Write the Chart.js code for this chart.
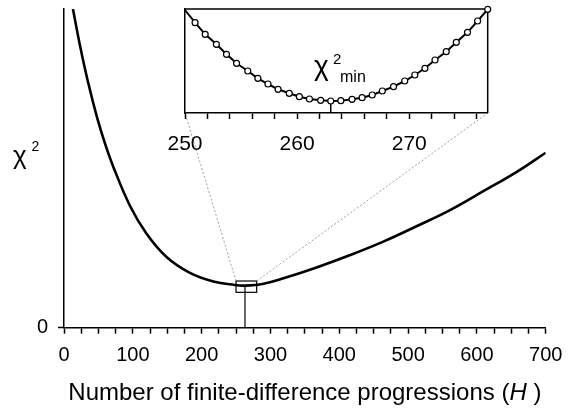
<!DOCTYPE html>
<html>
<head>
<meta charset="utf-8">
<script src="https://cdn.jsdelivr.net/npm/chart.js@4.4.0/dist/chart.umd.min.js"></script>
<style>
  body { margin: 0; background: #fff; }
  #wrap { position: relative; width: 580px; height: 410px; }
  #mainChart { position: absolute; left: 0; top: 0; }
  #insetChart { position: absolute; left: 150px; top: 0; }
</style>
</head>
<body>
<div id="wrap">
  <canvas id="mainChart" width="580" height="410"></canvas>
  <canvas id="insetChart" width="370" height="160"></canvas>
</div>
<script>
// chi^2 against number of finite-difference progressions H
const hValues   = [13, 23, 35, 48, 60, 72, 96, 120, 149, 183, 217, 248, 263, 290, 319, 367, 416, 464, 513, 561, 610, 658, 700];
const chiValues = [100, 88.8, 77, 66, 57.5, 50.3, 38.2, 29.5, 22.2, 17.2, 14.5, 13.4, 13.2, 13.8, 15.5, 18.9, 22.8, 27.0, 31.9, 36.9, 42.9, 48.9, 54.9];

// zoomed points around the minimum (inset, relative chi^2 units)
const insetH   = [250, 250.9, 251.8, 252.8, 253.7, 254.6, 255.6, 256.5, 257.4, 258.3, 259.3, 260.2, 261.1, 262.1, 263.0,
                  263.9, 264.9, 265.8, 266.7, 267.6, 268.6, 269.6, 270.5, 271.4, 272.3, 273.3, 274.2, 275.2, 276.1, 277.0];
const insetChi = [103, 90.3, 78.7, 68.7, 58.7, 49.7, 42, 34.7, 29, 23.7, 19.7, 16.3, 14, 12.7, 12,
                  12.3, 13.7, 15.3, 18, 22, 26.3, 32, 38, 44.7, 53, 61.3, 70.7, 80.7, 92, 103.7];

const minH = 263;          // position of chi^2 min
const minChi = 13.2;       // chi^2 min on main axes
const insetMinChi = 12;    // chi^2 min on inset axes
const boxH = [250, 280];   // zoom window, H
const boxChi = [11.1, 14.65];

const FONT = "'Liberation Sans', Arial, sans-serif";

//----------------* inset decorations
const insetDecor = {
  id: 'insetDecor',
  beforeDatasetsDraw(chart) {
    const ctx = chart.ctx, a = chart.chartArea;
    const xs = chart.scales.x, ys = chart.scales.y;
    ctx.save();
    ctx.strokeStyle = '#000';
    ctx.lineWidth = 1.5;
    ctx.beginPath();
    ctx.moveTo(a.left, a.top); ctx.lineTo(a.right, a.top); ctx.lineTo(a.right, a.bottom);
    ctx.stroke();
    const mx = xs.getPixelForValue(minH);
    ctx.beginPath();
    ctx.moveTo(mx, ys.getPixelForValue(insetMinChi));
    ctx.lineTo(mx, a.bottom);
    ctx.stroke();
    // chi^2 min label
    ctx.fillStyle = '#000';
    ctx.textBaseline = 'alphabetic';
    ctx.font = '28px ' + FONT;
    ctx.fillText('\u03C7', 164, 75);
    ctx.font = '15px ' + FONT;
    ctx.fillText('2', 183, 64);
    ctx.font = '16px ' + FONT;
    ctx.fillText('min', 190, 82);
    ctx.restore();
  }
};

const insetChart = new Chart(document.getElementById('insetChart'), {
  type: 'line',
  data: {
    datasets: [{
      data: insetH.map((h, i) => ({ x: h, y: insetChi[i] })),
      borderColor: '#000',
      borderWidth: 2,
      tension: 0,
      clip: false,
      pointRadius: c => c.dataIndex === 0 ? 0 : 3,
      pointBackgroundColor: '#fff',
      pointBorderColor: '#000',
      pointBorderWidth: 1.2
    }]
  },
  options: {
    responsive: false,
    animation: false,
    devicePixelRatio: 1,
    layout: { padding: { left: 0, right: 32.3, top: 9, bottom: 0 } },
    scales: {
      x: {
        type: 'linear', min: 250, max: 277,
        afterFit: s => { s.height = 47; s.paddingLeft = 0; s.paddingRight = 0; },
        ticks: {
          stepSize: 2, includeBounds: false, autoSkip: false, maxRotation: 0, padding: 13,
          color: '#000', font: { family: FONT, size: 21 },
          callback: v => v % 10 === 0 ? v : ''
        },
        grid: { drawOnChartArea: false, tickLength: 6, tickColor: '#000', tickWidth: 1.5 },
        border: { color: '#000', width: 1.5 }
      },
      y: {
        min: 0, max: 104,
        afterFit: s => { s.width = 35; s.paddingTop = 0; s.paddingBottom = 0; },
        ticks: { display: false },
        grid: { drawOnChartArea: false, drawTicks: false },
        border: { color: '#000', width: 1.5 }
      }
    },
    plugins: { legend: { display: false }, tooltip: { enabled: false } }
  },
  plugins: [insetDecor]
});

//----------------* main chart decorations: zoom box, connectors, axis titles
const mainDecor = {
  id: 'mainDecor',
  afterDraw(chart) {
    const ctx = chart.ctx, a = chart.chartArea;
    const xs = chart.scales.x, ys = chart.scales.y;
    ctx.save();
    const bx0 = xs.getPixelForValue(boxH[0]), bx1 = xs.getPixelForValue(boxH[1]);
    const byTop = ys.getPixelForValue(boxChi[1]), byBot = ys.getPixelForValue(boxChi[0]);
    ctx.strokeStyle = '#000';
    ctx.lineWidth = 1.2;
    ctx.strokeRect(bx0, byTop, bx1 - bx0, byBot - byTop);
    const mx = xs.getPixelForValue(minH);
    ctx.beginPath();
    ctx.moveTo(mx, ys.getPixelForValue(minChi));
    ctx.lineTo(mx, ys.getPixelForValue(0));
    ctx.stroke();

    // dotted connectors to the inset corners
    const ic = insetChart.canvas, ia = insetChart.chartArea;
    const ox = ic.offsetLeft, oy = ic.offsetTop;
    ctx.strokeStyle = '#888';
    ctx.lineWidth = 0.8;
    ctx.setLineDash([2, 2]);
    ctx.beginPath();
    ctx.moveTo(bx0, byTop); ctx.lineTo(ox + ia.left, oy + ia.bottom);
    ctx.moveTo(bx1, byTop); ctx.lineTo(ox + ia.right, oy + ia.bottom);
    ctx.stroke();
    ctx.setLineDash([]);

    // y title chi^2
    ctx.fillStyle = '#000';
    ctx.textBaseline = 'alphabetic';
    ctx.font = '26px ' + FONT;
    ctx.fillText('\u03C7', 13, 164);
    ctx.font = '14px ' + FONT;
    ctx.fillText('2', 31.5, 151);

    // x title with italic H
    const p1 = 'Number of finite-difference progressions (', p2 = 'H', p3 = ' )';
    ctx.font = '24px ' + FONT;
    const w1 = ctx.measureText(p1).width, w3 = ctx.measureText(p3).width;
    ctx.font = 'italic 24px ' + FONT;
    const w2 = ctx.measureText(p2).width;
    let x = (a.left + a.right) / 2 - (w1 + w2 + w3) / 2;
    const y = 400;
    ctx.font = '24px ' + FONT;
    ctx.fillText(p1, x, y); x += w1;
    ctx.font = 'italic 24px ' + FONT;
    ctx.fillText(p2, x, y); x += w2;
    ctx.font = '24px ' + FONT;
    ctx.fillText(p3, x, y);
    ctx.restore();
  }
};

const mainChart = new Chart(document.getElementById('mainChart'), {
  type: 'line',
  data: {
    datasets: [{
      data: hValues.map((h, i) => ({ x: h, y: chiValues[i] })),
      borderColor: '#000',
      borderWidth: 2.6,
      pointRadius: 0,
      tension: 0.4
    }]
  },
  options: {
    responsive: false,
    animation: false,
    devicePixelRatio: 1,
    layout: { padding: { left: 0, right: 34.3, top: 9, bottom: 0 } },
    scales: {
      x: {
        type: 'linear', min: 0, max: 700,
        afterFit: s => { s.height = 82.3; s.paddingLeft = 0; s.paddingRight = 0; },
        ticks: {
          stepSize: 25, autoSkip: false, maxRotation: 0, padding: 10,
          color: '#000', font: { family: FONT, size: 20 },
          callback: v => v % 100 === 0 ? v : ''
        },
        grid: { drawOnChartArea: false, tickLength: 6, tickColor: '#000', tickWidth: 1.5 },
        border: { color: '#000', width: 1.5 }
      },
      y: {
        min: 0, max: 100,
        afterBuildTicks: s => { s.ticks = [{ value: 0 }]; },
        afterFit: s => { s.width = 64; s.paddingTop = 0; s.paddingBottom = 0; },
        ticks: { padding: 10, color: '#000', font: { family: FONT, size: 20 } },
        grid: { drawOnChartArea: false, tickLength: 6, tickColor: '#000', tickWidth: 1.5 },
        border: { color: '#000', width: 1.5 }
      }
    },
    plugins: { legend: { display: false }, tooltip: { enabled: false } }
  },
  plugins: [mainDecor]
});
</script>
</body>
</html>
